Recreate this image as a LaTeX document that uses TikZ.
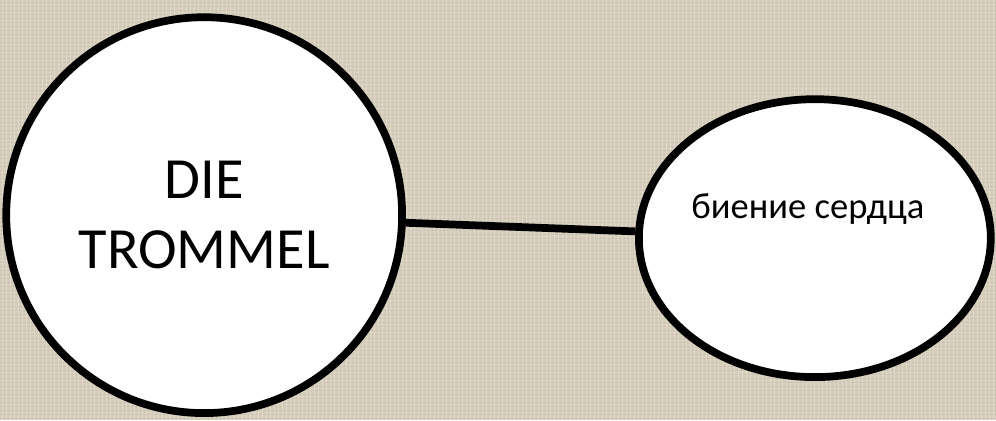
\documentclass[tikz,border=0pt]{standalone}
\usepackage{fontspec}
\setmainfont{Carlito}
\usepackage{tikz}
\usetikzlibrary{shapes.geometric,positioning}
\definecolor{linen}{RGB}{214,205,188}
\definecolor{linendark}{RGB}{196,186,168}

\begin{document}
\begin{tikzpicture}[
    x=0.025cm, y=-0.025cm,
    bubble/.style={draw=black, fill=white, line width=5.5pt, inner sep=0pt},
    drum/.style={bubble, circle, minimum size=9.9cm, align=center, font=\fontsize{41.5}{50}\selectfont},
    beat/.style={bubble, ellipse, minimum width=8.8cm, minimum height=6.95cm},
    link/.style={line width=5.5pt},
]

% Background
\fill[linen] (0,0) rectangle (996,420);
\foreach \y in {2,6,...,418} \draw[linendark, line width=0.4pt, opacity=0.5] (0,\y) -- (996,\y);
\foreach \x in {2,6,...,994} \draw[white, line width=0.4pt, opacity=0.25] (\x,0) -- (\x,420);
\useasboundingbox (0,0) rectangle (996,420);

% Bubbles
\node[drum] (trommel) at (204,215) {DIE\\TROMMEL};
\node[beat] (herz) at (815,238) {};
\node[font=\fontsize{26}{31}\selectfont] (herztext) at (808,209) {биение сердца};

% Link
\draw[link] (trommel) -- (herz);

\end{tikzpicture}
\end{document}
